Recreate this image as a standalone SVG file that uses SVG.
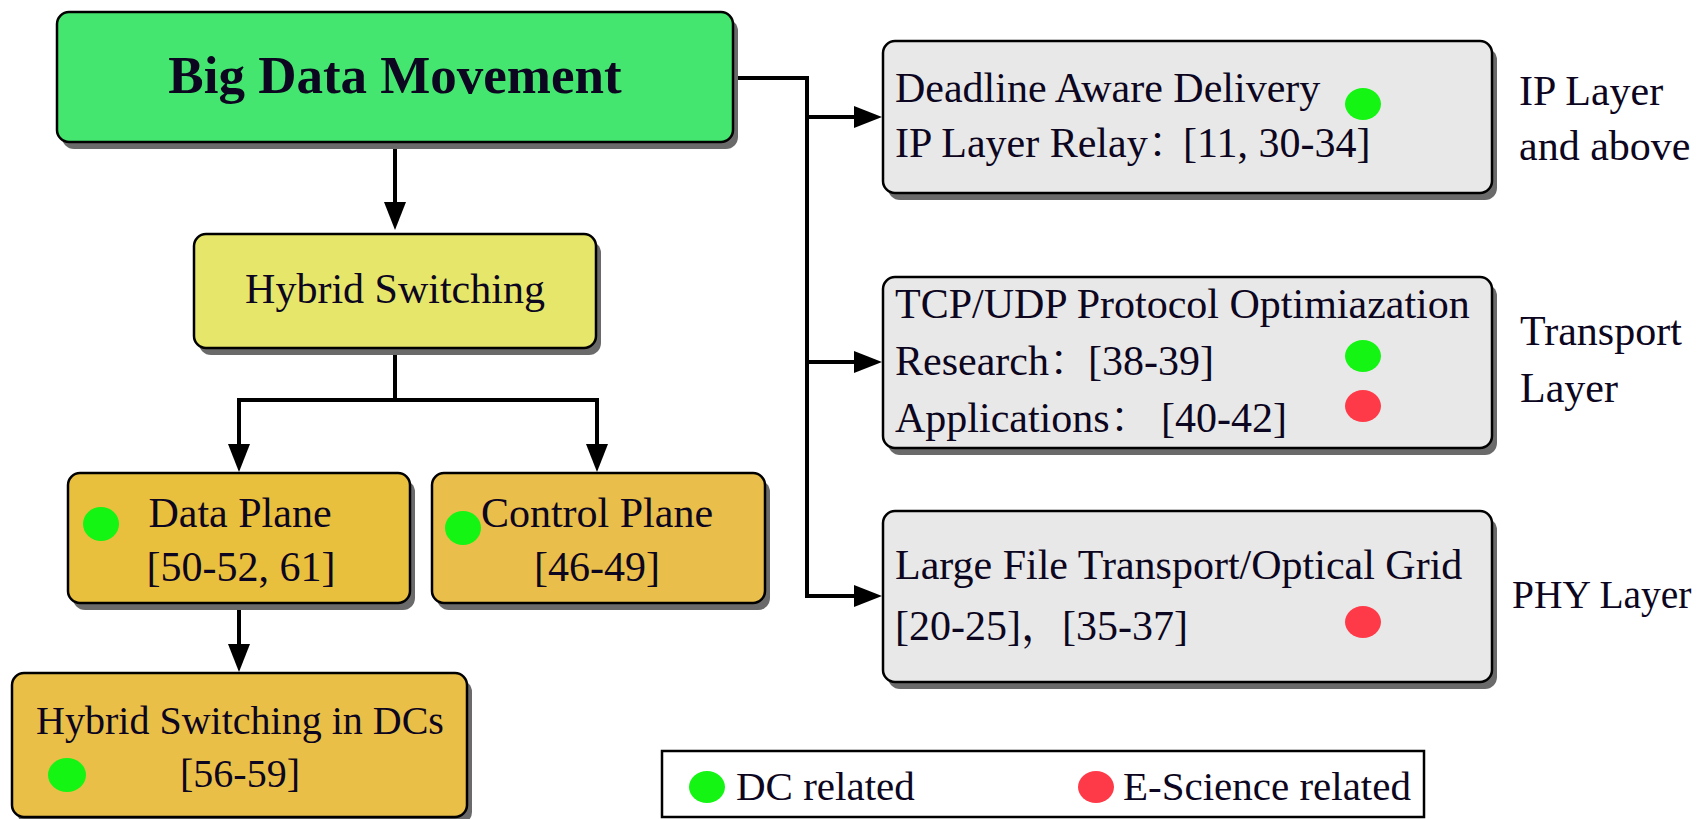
<svg xmlns="http://www.w3.org/2000/svg" width="1703" height="819" viewBox="0 0 1703 819">
  <style>
    .box { stroke: #000; stroke-width: 2.5; }
    .shadow { fill: #6a6a6a; }
    .t { font-family: "Liberation Serif", "Noto Serif CJK SC", "Noto Sans CJK SC", serif; font-size: 42px; fill: #0d0620; }
    .c { text-anchor: middle; }
    .title { font-size: 53px; font-weight: bold; }
    .link { fill: none; stroke: #000; stroke-width: 4; }
    .dc { fill: #14f514; }
    .es { fill: #ff3a48; }
  </style>
  <defs>
    <marker id="arrow" viewBox="0 0 28 22" refX="18" refY="11" markerWidth="28" markerHeight="22" markerUnits="userSpaceOnUse" orient="auto">
      <path d="M0,0 L28,11 L0,22 z" fill="#000"/>
    </marker>
  </defs>

  <rect width="1703" height="819" fill="#fff"/>

  <!-- connectors -->
  <g id="connectors">
    <path class="link" d="M395,142 V220" marker-end="url(#arrow)"/>
    <path class="link" d="M733,78 H807 V596"/>
    <path class="link" d="M805,117 H872" marker-end="url(#arrow)"/>
    <path class="link" d="M805,362 H872" marker-end="url(#arrow)"/>
    <path class="link" d="M805,596 H872" marker-end="url(#arrow)"/>
    <path class="link" d="M395,348 V400"/>
    <path class="link" d="M239,400 H597"/>
    <path class="link" d="M239,398 V462" marker-end="url(#arrow)"/>
    <path class="link" d="M597,398 V462" marker-end="url(#arrow)"/>
    <path class="link" d="M239,603 V662" marker-end="url(#arrow)"/>
  </g>

  <!-- Big Data Movement -->
  <g id="big-data-movement">
    <rect class="shadow" x="62" y="19" width="676" height="130" rx="12"/>
    <rect class="box" x="57" y="12" width="676" height="130" rx="12" fill="#44e66f"/>
    <text class="t c title" x="395" y="93">Big Data Movement</text>
  </g>

  <!-- Hybrid Switching -->
  <g id="hybrid-switching">
    <rect class="shadow" x="199" y="241" width="402" height="114" rx="12"/>
    <rect class="box" x="194" y="234" width="402" height="114" rx="12" fill="#e6e66a"/>
    <text class="t c" x="395" y="303">Hybrid Switching</text>
  </g>

  <!-- Data Plane -->
  <g id="data-plane">
    <rect class="shadow" x="73" y="480" width="342" height="130" rx="12"/>
    <rect class="box" x="68" y="473" width="342" height="130" rx="12" fill="#e9bf3e"/>
    <ellipse class="dc" cx="101" cy="524" rx="18" ry="17"/>
    <text class="t c" x="240" y="527">Data Plane</text>
    <text class="t c" x="241" y="581">[50-52, 61]</text>
  </g>

  <!-- Control Plane -->
  <g id="control-plane">
    <rect class="shadow" x="437" y="480" width="333" height="130" rx="12"/>
    <rect class="box" x="432" y="473" width="333" height="130" rx="12" fill="#e9be4a"/>
    <ellipse class="dc" cx="463" cy="528" rx="18" ry="17"/>
    <text class="t c" x="597" y="527">Control Plane</text>
    <text class="t c" x="597" y="581">[46-49]</text>
  </g>

  <!-- Hybrid Switching in DCs -->
  <g id="hybrid-switching-dcs">
    <rect class="shadow" x="17" y="680" width="455" height="144" rx="12"/>
    <rect class="box" x="12" y="673" width="455" height="144" rx="12" fill="#e9bf48"/>
    <text class="t c" x="240" y="734" style="font-size:40px">Hybrid Switching in DCs</text>
    <ellipse class="dc" cx="67" cy="775" rx="19" ry="17"/>
    <text class="t c" x="240" y="787" style="font-size:40px">[56-59]</text>
  </g>

  <!-- IP layer and above -->
  <g id="ip-layer-box">
    <rect class="shadow" x="888" y="48" width="609" height="152" rx="12"/>
    <rect class="box" x="883" y="41" width="609" height="152" rx="12" fill="#e8e8e8"/>
    <text class="t" x="895" y="102">Deadline Aware Delivery</text>
    <ellipse class="dc" cx="1363" cy="104" rx="18" ry="16"/>
    <text class="t" x="895" y="157">IP Layer Relay：</text>
    <text class="t" x="1183" y="157">[11, 30-34]</text>
  </g>
  <g id="ip-layer-label">
    <text class="t" x="1519" y="105">IP Layer</text>
    <text class="t" x="1519" y="160">and above</text>
  </g>

  <!-- Transport layer -->
  <g id="transport-box">
    <rect class="shadow" x="888" y="284" width="609" height="171" rx="12"/>
    <rect class="box" x="883" y="277" width="609" height="171" rx="12" fill="#e8e8e8"/>
    <text class="t" x="895" y="318">TCP/UDP Protocol Optimiazation</text>
    <text class="t" x="895" y="375">Research：</text>
    <text class="t" x="1088" y="375">[38-39]</text>
    <text class="t" x="895" y="432">Applications：</text>
    <text class="t" x="1161" y="432">[40-42]</text>
    <ellipse class="dc" cx="1363" cy="356" rx="18" ry="16"/>
    <ellipse class="es" cx="1363" cy="406" rx="18" ry="16"/>
  </g>
  <g id="transport-label">
    <text class="t" x="1520" y="345">Transport</text>
    <text class="t" x="1520" y="402">Layer</text>
  </g>

  <!-- PHY layer -->
  <g id="phy-box">
    <rect class="shadow" x="888" y="518" width="609" height="171" rx="12"/>
    <rect class="box" x="883" y="511" width="609" height="171" rx="12" fill="#e8e8e8"/>
    <text class="t" x="895" y="579">Large File Transport/Optical Grid</text>
    <text class="t" x="895" y="640">[20-25]，</text>
    <text class="t" x="1062" y="640">[35-37]</text>
    <ellipse class="es" cx="1363" cy="622" rx="18" ry="16"/>
  </g>
  <g id="phy-label">
    <text class="t" x="1512" y="608" style="font-size:39.5px">PHY Layer</text>
  </g>

  <!-- legend -->
  <g id="legend">
    <rect x="662" y="751" width="762" height="66" fill="#fff" stroke="#000" stroke-width="2.5"/>
    <ellipse class="dc" cx="707" cy="787" rx="18" ry="16"/>
    <text class="t" x="736" y="800" style="font-size:41px">DC related</text>
    <ellipse class="es" cx="1096" cy="787" rx="18" ry="16"/>
    <text class="t" x="1123" y="800" style="font-size:41px">E-Science related</text>
  </g>
</svg>
